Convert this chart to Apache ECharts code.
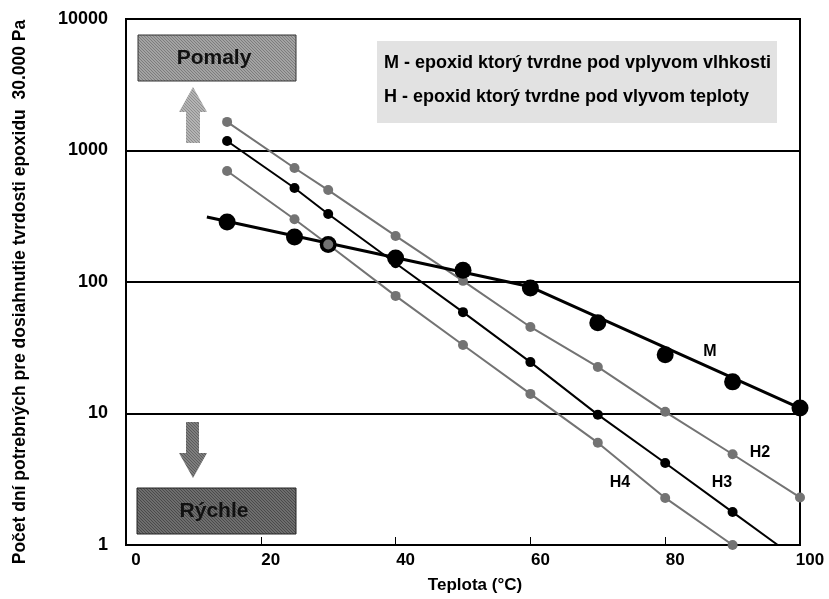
<!DOCTYPE html>
<html>
<head>
<meta charset="utf-8">
<script src="https://cdn.jsdelivr.net/npm/echarts@6/dist/echarts.min.js"></script>
<style>
  html, body { margin: 0; padding: 0; background: #fff; }
  #chart { width: 829px; height: 599px; }
</style>
</head>
<body>
<div id="chart"></div>
<script>
// values
const temps = [15, 25, 30, 40, 50, 60, 70, 80, 90, 100]
const mDays = [286, 220, 193, 152, 123, 90, 49, 28, 17.4, 11]
// M trend line (drawn as a fit, not through the dots)
const mTrendTemps = [12, 60, 100]
const mTrendDays = [312, 92, 11]
const h2Temps = [15, 25, 30, 40, 50, 60, 70, 80, 90, 100]
const h2Days = [1650, 736, 500, 224, 102, 45.5, 22.6, 10.3, 4.9, 2.3]
const h3Temps = [15, 25, 30, 40, 50, 60, 70, 80, 90]
const h3Days = [1180, 519, 329, 139, 59, 24.6, 9.8, 4.2, 1.78]
// H3 line runs on past the last dot down to the axis
const h3TailTemps = [96.7]
const h3TailDays = [1]
const h4Temps = [15, 25, 30, 40, 50, 60, 70, 80, 90]
const h4Days = [698, 300, 193, 78.4, 33.2, 14.1, 6.0, 2.28, 1.0]
const xTicks = [0, 20, 40, 60, 80, 100]
const yTicks = [1, 10, 100, 1000, 10000]

const GRAY = '#737373'
const FONT = 'Liberation Sans, Arial, sans-serif'

function zip (xs, ys) {
  return xs.map((x, i) => [x, ys[i]])
}

function hatch (base, dot) {
  const c = document.createElement('canvas')
  c.width = 3
  c.height = 3
  const g = c.getContext('2d')
  g.fillStyle = base
  g.fillRect(0, 0, 3, 3)
  g.fillStyle = dot
  g.fillRect(0, 0, 1, 1)
  g.fillRect(1, 1, 1, 1)
  g.fillRect(2, 2, 1, 1)
  return { image: c, repeat: 'repeat' }
}

function lineSeries (name, data, color, width) {
  return {
    name: name,
    type: 'line',
    data: data,
    symbol: 'none',
    clip: false,
    lineStyle: { color: color, width: width },
    z: 2
  }
}

function dotSeries (name, data, color, size, z) {
  return {
    name: name,
    type: 'scatter',
    data: data,
    symbolSize: size,
    clip: false,
    itemStyle: { color: color, opacity: 1 },
    z: z
  }
}

function label (text, x, y) {
  return {
    type: 'text',
    x: x,
    y: y,
    style: { text: text, fill: '#000', font: 'bold 16px ' + FONT, align: 'center', verticalAlign: 'middle' },
    z: 11
  }
}

const chart = echarts.init(document.getElementById('chart'))

const option = {
  animation: false,
  backgroundColor: '#fff',
  textStyle: { fontFamily: FONT },
  grid: {
    left: 126,
    right: 29,
    top: 19,
    bottom: 54,
    show: true,
    borderColor: '#000',
    borderWidth: 2,
    backgroundColor: 'transparent'
  },
  xAxis: {
    type: 'value',
    min: xTicks[0],
    max: xTicks[xTicks.length - 1],
    interval: 20,
    name: 'Teplota (°C)',
    nameLocation: 'middle',
    nameGap: 32,
    nameTextStyle: {
      color: '#000',
      fontSize: 17,
      fontWeight: 'bold',
      padding: [0, 0, 0, 24]
    },
    axisLine: { lineStyle: { color: '#000', width: 2 } },
    axisTick: { inside: true, length: 8, lineStyle: { color: '#000', width: 1 } },
    axisLabel: {
      color: '#000',
      fontSize: 17,
      fontWeight: 'bold',
      margin: 7,
      padding: [0, 0, 0, 20]
    },
    splitLine: { show: false }
  },
  yAxis: {
    type: 'log',
    logBase: 10,
    min: yTicks[0],
    max: yTicks[yTicks.length - 1],
    name: 'Počet dní potrebných pre dosiahnutie tvrdosti epoxidu  30.000 Pa',
    nameLocation: 'middle',
    nameGap: 97,
    nameTextStyle: {
      color: '#000',
      fontSize: 17.5,
      fontWeight: 'bold',
      padding: [0, 20, 0, 0]
    },
    axisLine: { lineStyle: { color: '#000', width: 2 } },
    axisTick: { show: false },
    axisLabel: {
      color: '#000',
      fontSize: 18,
      fontWeight: 'bold',
      margin: 18,
      formatter: v => String(v)
    },
    splitLine: { show: true, lineStyle: { color: '#000', width: 2 } }
  },
  series: [
    lineSeries('H2', zip(h2Temps, h2Days), GRAY, 2),
    lineSeries('H3', zip(h3Temps.concat(h3TailTemps), h3Days.concat(h3TailDays)), '#000', 2),
    lineSeries('H4', zip(h4Temps, h4Days), GRAY, 2),
    lineSeries('M', zip(mTrendTemps, mTrendDays), '#000', 3),
    dotSeries('H2', zip(h2Temps, h2Days), GRAY, 10, 3),
    dotSeries('H3', zip(h3Temps, h3Days), '#000', 10, 3),
    dotSeries('M', zip(temps, mDays), '#000', 17, 4),
    dotSeries('H4', zip(h4Temps, h4Days), GRAY, 10, 5)
  ],
  graphic: [
    // "Pomaly" box and arrow
    {
      type: 'rect',
      shape: { x: 138, y: 35, width: 158, height: 46 },
      style: { fill: hatch('#a3a3a3', '#7c7c7c'), stroke: '#333', lineWidth: 1 },
      z: 10
    },
    {
      type: 'text',
      x: 214,
      y: 58,
      style: {
        text: 'Pomaly',
        fill: '#111',
        font: 'bold 21px ' + FONT,
        align: 'center',
        verticalAlign: 'middle'
      },
      z: 11
    },
    {
      type: 'polygon',
      shape: {
        points: [[193, 87], [207, 112], [200, 112], [200, 143], [186, 143], [186, 112], [179, 112]]
      },
      style: { fill: hatch('#b4b4b4', '#8e8e8e') },
      z: 10
    },
    // "Rýchle" box and arrow
    {
      type: 'rect',
      shape: { x: 137, y: 488, width: 159, height: 46 },
      style: { fill: hatch('#6e6e6e', '#4a4a4a'), stroke: '#222', lineWidth: 1 },
      z: 10
    },
    {
      type: 'text',
      x: 214,
      y: 511,
      style: {
        text: 'Rýchle',
        fill: '#111',
        font: 'bold 21px ' + FONT,
        align: 'center',
        verticalAlign: 'middle'
      },
      z: 11
    },
    {
      type: 'polygon',
      shape: {
        points: [[186, 422], [199, 422], [199, 453], [207, 453], [193, 478], [179, 453], [186, 453]]
      },
      style: { fill: hatch('#7e7e7e', '#5a5a5a') },
      z: 10
    },
    // legend box
    {
      type: 'rect',
      shape: { x: 377, y: 41, width: 400, height: 82 },
      style: { fill: '#e2e2e2' },
      z: 10
    },
    {
      type: 'text',
      x: 384,
      y: 63,
      style: {
        text: 'M - epoxid ktorý tvrdne pod vplyvom vlhkosti',
        fill: '#000',
        font: 'bold 18px ' + FONT,
        verticalAlign: 'middle'
      },
      z: 11
    },
    {
      type: 'text',
      x: 384,
      y: 97,
      style: {
        text: 'H - epoxid ktorý tvrdne pod vlyvom teploty',
        fill: '#000',
        font: 'bold 18px ' + FONT,
        verticalAlign: 'middle'
      },
      z: 11
    },
    // series labels
    label('M', 710, 352),
    label('H2', 760, 453),
    label('H3', 722, 483),
    label('H4', 620, 483)
  ]
}

chart.setOption(option)
</script>
</body>
</html>
